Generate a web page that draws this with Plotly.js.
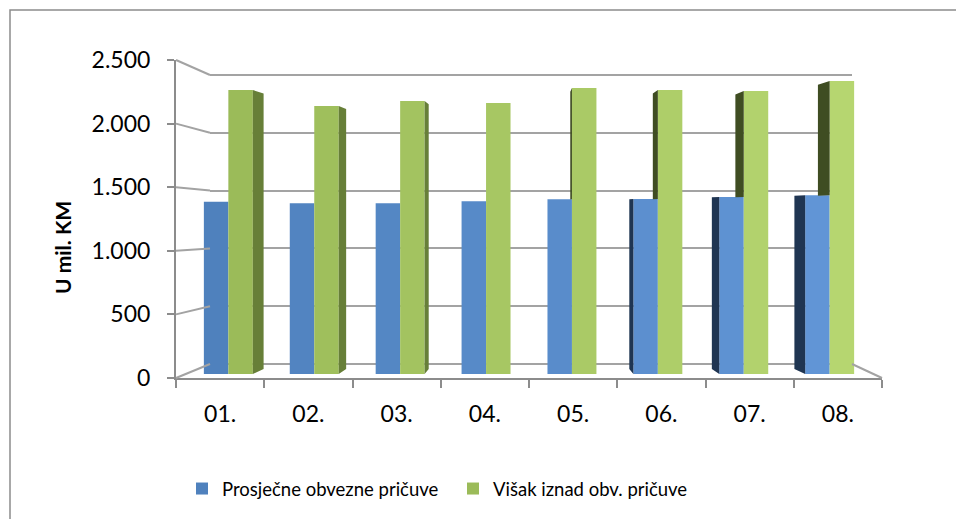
<!DOCTYPE html>
<html>
<head>
<meta charset="utf-8">
<script src="https://cdn.plot.ly/plotly-3.0.1.min.js"></script>
<style>html,body{margin:0;padding:0;background:#fff}#chart{width:956px;height:519px}</style>
</head>
<body>
<div id="chart"></div>
<script>
// ---- data ----
const categories = ['01.', '02.', '03.', '04.', '05.', '06.', '07.', '08.'];
const prosjecne = [1392, 1380, 1380, 1395, 1411, 1414, 1430, 1443];
const visak = [2294, 2165, 2205, 2189, 2310, 2294, 2286, 2367];
const seriesNames = ['Prosječne obvezne pričuve', 'Višak iznad obv. pričuve'];
const yTickVals = [0, 500, 1000, 1500, 2000, 2500];
const yTickText = ['0', '500', '1.000', '1.500', '2.000', '2.500'];
const yTitle = 'U mil. KM';

// ---- geometry (pixels) ----
const W = 956, H = 519;
const FRONT_L = 176, FRONT_R = 882, FRONT_BOTTOM = 378, FRONT_TOP = 60;
const BACK_L = 210, BACK_R = 852, BACK_BOTTOM = 364, BACK_TOP = 75;
const BAR_FLOOR = 374, BAR_PX = 0.1238, CAT_PX = 85.9;
const BARGAP = 0.43;
const BW = (1 - BARGAP) / 2;
const K = 0.039;            // side-face perspective factor
const B0 = 40, F = 0.97;    // back-edge transform for side faces
const px = x => x / W, py = y => 1 - y / H;

const n = categories.length;
const mid = (n - 1) / 2;
const idx = categories.map((c, i) => i);

function mix(a, b, t) { return 'rgb(' + a.map((v, k) => Math.round(v + (b[k] - v) * t)).join(',') + ')'; }
const blueCols = idx.map(i => mix([79, 129, 189], [97, 149, 214], i / (n - 1)));
const greenCols = idx.map(i => mix([155, 187, 89], [182, 214, 112], i / (n - 1)));

const back = v => B0 + F * v;
function poly(xe, v0, v1, dx, bottomBack) {
  return { x: [xe, xe, xe + dx, xe + dx, xe, null], y: [v0, v1, back(v1), bottomBack, v0, null] };
}
function collect(list) {
  const x = [], y = [];
  list.forEach(p => { x.push(...p.x); y.push(...p.y); });
  return { x, y };
}
const gR = collect(idx.filter(i => i + BW < mid).map(i => { const xe = i + BW; return poly(xe, 0, visak[i], K * (mid - xe), B0); }));
const bL = collect(idx.filter(i => i - BW > mid).map(i => { const xe = i - BW; return poly(xe, 0, prosjecne[i], K * (mid - xe), B0); }));
const gL = collect(idx.filter(i => i > mid).map(i => poly(i, prosjecne[i], visak[i], K * (mid - i), back(prosjecne[i]))));

const traces = [
  // empty holders so the back-wall and front-axis subplots are drawn
  { type: 'scatter', x: [], y: [], xaxis: 'x', yaxis: 'y', showlegend: false, hoverinfo: 'skip' },
  { type: 'bar', x: idx, y: prosjecne, name: seriesNames[0], xaxis: 'x2', yaxis: 'y2',
    marker: { color: blueCols, line: { width: 0 } }, hoverinfo: 'y' },
  { type: 'bar', x: idx, y: visak, name: seriesNames[1], xaxis: 'x2', yaxis: 'y2',
    marker: { color: greenCols, line: { width: 0 } }, hoverinfo: 'y' },
  { type: 'scatter', mode: 'lines', x: gR.x, y: gR.y, fill: 'toself', fillcolor: '#677f38',
    line: { width: 0, color: '#677f38' }, xaxis: 'x2', yaxis: 'y2', showlegend: false, hoverinfo: 'skip' },
  { type: 'scatter', mode: 'lines', x: gL.x, y: gL.y, fill: 'toself', fillcolor: '#3f4d22',
    line: { width: 0, color: '#3f4d22' }, xaxis: 'x2', yaxis: 'y2', showlegend: false, hoverinfo: 'skip' },
  { type: 'scatter', mode: 'lines', x: bL.x, y: bL.y, fill: 'toself', fillcolor: '#1f3552',
    line: { width: 0, color: '#1f3552' }, xaxis: 'x2', yaxis: 'y2', showlegend: false, hoverinfo: 'skip' },
  { type: 'scatter', x: [], y: [], xaxis: 'x3', yaxis: 'y3', showlegend: false, hoverinfo: 'skip' }
];

// back wall scale
const backPx = (BACK_BOTTOM - BACK_TOP) / 2500;
const frontPx = (FRONT_BOTTOM - FRONT_TOP) / 2500;
const yfPix = v => FRONT_BOTTOM - v * frontPx;
const ybPix = v => BACK_BOTTOM - v * backPx;

const axisCol = '#8c8c8c', gridCol = '#a3a3a3';
const shapes = [];
yTickVals.forEach(v => {
  shapes.push({ type: 'line', xref: 'paper', yref: 'paper', x0: px(FRONT_L), y0: py(yfPix(v)), x1: px(BACK_L), y1: py(ybPix(v)),
    line: { color: gridCol, width: 2 } });
});
shapes.push({ type: 'line', xref: 'paper', yref: 'paper', x0: px(BACK_R), y0: py(BACK_BOTTOM), x1: px(FRONT_R), y1: py(FRONT_BOTTOM),
  line: { color: gridCol, width: 2 } });
shapes.push({ type: 'rect', xref: 'paper', yref: 'paper', x0: px(10), y0: -0.05, x1: 1.05, y1: py(10),
  line: { color: '#8c8c8c', width: 1.5 }, fillcolor: 'rgba(0,0,0,0)' });

const pad = 100;
const layout = {
  width: W, height: H,
  margin: { l: 0, r: 0, t: 0, b: 0, pad: 0 },
  paper_bgcolor: '#ffffff', plot_bgcolor: 'rgba(0,0,0,0)',
  font: { family: 'Lato, "Open Sans", sans-serif', color: '#000' },
  barmode: 'group', bargap: BARGAP, bargroupgap: 0,
  showlegend: true,
  legend: { orientation: 'h', x: px(182), xanchor: 'left', y: py(489), yanchor: 'middle',
    font: { size: 18.5, family: 'Lato, sans-serif', color: '#000' }, bgcolor: 'rgba(0,0,0,0)', entrywidth: 226 },
  // back wall (gridlines)
  xaxis: { domain: [px(BACK_L), px(BACK_R)], range: [0, 1], visible: false, fixedrange: true },
  yaxis: { domain: [py(BACK_BOTTOM + pad * backPx), py(BACK_TOP - pad * backPx)], range: [-pad, 2500 + pad],
    tickvals: yTickVals, showticklabels: false, ticks: '', showline: false, zeroline: false,
    showgrid: true, gridcolor: gridCol, gridwidth: 2, fixedrange: true },
  // bars
  xaxis2: { domain: [px(FRONT_L), px(FRONT_R)], anchor: 'y2',
    range: [mid - (FRONT_R - FRONT_L) / 2 / CAT_PX, mid + (FRONT_R - FRONT_L) / 2 / CAT_PX], visible: false, fixedrange: true },
  yaxis2: { domain: [py(FRONT_BOTTOM), py(FRONT_TOP)], anchor: 'x2',
    range: [-(FRONT_BOTTOM - BAR_FLOOR) / BAR_PX, (BAR_FLOOR - FRONT_TOP) / BAR_PX], visible: false, fixedrange: true },
  // front axes
  xaxis3: { domain: [px(FRONT_L), px(FRONT_R)], anchor: 'y3', range: [-0.5, n - 0.5],
    tickmode: 'array', tickvals: idx, ticktext: categories, ticks: '', ticklabelstandoff: 14,
    minor: { tickmode: 'array', tickvals: idx.concat([n]).map(i => i - 0.5), ticks: 'outside', ticklen: 8, tickwidth: 2, tickcolor: axisCol, showgrid: false },
    showline: true, linecolor: axisCol, linewidth: 2, showgrid: false, zeroline: false,
    tickfont: { size: 23, family: 'Lato, sans-serif', color: '#000' }, fixedrange: true },
  yaxis3: { domain: [py(FRONT_BOTTOM), py(FRONT_TOP)], anchor: 'x3', range: [0, 2500],
    tickmode: 'array', tickvals: yTickVals, ticktext: yTickText, ticks: 'outside', ticklen: 7, tickwidth: 2, tickcolor: axisCol,
    ticklabelstandoff: 12,
    showline: true, linecolor: axisCol, linewidth: 2, showgrid: false, zeroline: false,
    tickfont: { size: 23, family: 'Lato, sans-serif', color: '#000' }, fixedrange: true },
  shapes: shapes,
  annotations: [{ text: '<b>' + yTitle + '</b>', xref: 'paper', yref: 'paper', x: px(62), y: py(248),
    xanchor: 'center', yanchor: 'middle', textangle: -90, showarrow: false,
    font: { size: 21, family: 'Lato, sans-serif', color: '#000' } }]
};

Plotly.newPlot('chart', traces, layout, { displayModeBar: false, staticPlot: true });
</script>
</body>
</html>
